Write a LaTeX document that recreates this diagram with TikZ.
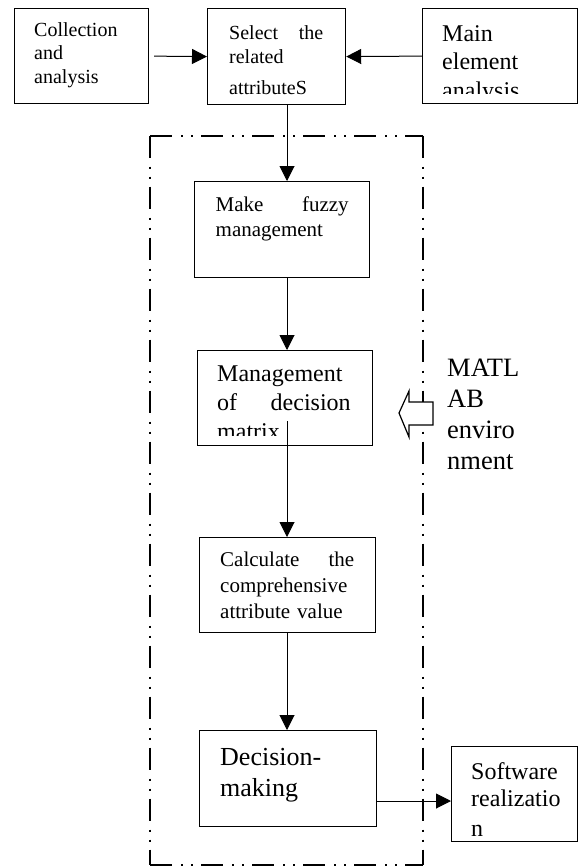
\documentclass[tikz,border=0pt]{standalone}
\usepackage{fontspec}
\setmainfont{Liberation Serif}
\usetikzlibrary{arrows.meta}
\newcommand{\fs}[2]{\fontsize{#1}{#2}\selectfont}
\tikzset{
  blk/.style={draw,line width=1.2pt,inner sep=0pt,anchor=north west},
  txt/.style={inner sep=0pt,anchor=base west,align=left},
  arr/.style={line width=1pt,-{Triangle[length=15pt,width=15pt]}},
  rng/.style={line width=2pt,dash pattern=on 22pt off 9pt on 2pt off 8pt on 2pt off 8pt},
}

\begin{document}
\begin{tikzpicture}[x=1pt,y=-1pt]
\useasboundingbox (0,0) rectangle (579,867);

%MATLAB範囲
\draw[rng](150,135.7)--(422.5,135.7); %上
\draw[rng](150,135.7)--(150,865); %左
\draw[rng](422.5,135.7)--(422.5,865); %右
\draw[rng](150,865)--(422.5,865); %下

%枠
\node[blk,minimum width=134pt,minimum height=95pt] (coll) at (14,8) {}; %上左
\node[blk,minimum width=138pt,minimum height=96pt] (sel) at (207,8) {}; %上中
\node[blk,minimum width=155pt,minimum height=95pt] (main) at (422,8) {}; %上右
\node[blk,minimum width=175pt,minimum height=95.5pt] (fuzzy) at (194,181) {};
\node[blk,minimum width=175pt,minimum height=95pt] (manag) at (197,350) {};
\node[blk,minimum width=176pt,minimum height=95pt] (calc) at (199,537) {};
\node[blk,minimum width=177pt,minimum height=96pt] (dec) at (199,730) {};
\node[blk,minimum width=126pt,minimum height=95pt] (soft) at (451,746) {}; %右下

%文字
\node[txt,text width=100pt,font=\fs{20}{23.3}] (colltxt) at (34,36.7) {Collection\\and\\analysis};
\node[txt,text width=94pt,font=\fs{20}{24}] (seltxt) at (229,39.3) {Select\hfill the\\related\\[7pt]attributeS};
\begin{scope}
\clip (main.north west) rectangle ([yshift=11pt]main.south east);
\node[txt,text width=120pt,font=\fs{24}{28.2}] (maintxt) at (442,41.7) {Main\\element\\analysis};
\end{scope}
\node[txt,text width=133pt,font=\fs{21}{25}] (fuzzytxt) at (215.5,211.7) {Make\hfill fuzzy\\management};
\begin{scope}
\clip (manag.north west) rectangle ([yshift=11pt]manag.south east);
\node[txt,text width=133.5pt,font=\fs{24}{28.8}] (managtxt) at (217,381.7) {Management\\of\hfill decision\\matrix};
\end{scope}
\node[txt,text width=134pt,font=\fs{21}{26}] (calctxt) at (220,566.7) {Calculate\hfill the\\comprehensive\\attribute value};
\node[txt,text width=140pt,font=\fs{26}{31}] (dectxt) at (220,765) {Decision-\\making};
\begin{scope}
\clip (soft.north west) rectangle ([yshift=7pt]soft.south east);
\node[txt,text width=100pt,font=\fs{24}{27.5}] (softtxt) at (471,779.3) {Software\\realizatio\\[2.5pt]n};
\end{scope}
\node[txt,text width=120pt,font=\fs{26.5}{31}] (matlab) at (447,376.7) {MATL\\AB\\enviro\\nment};

%矢印
\coordinate (ax) at (287,0);
\coordinate (lv) at (0,801);
\coordinate (mstart) at (287,421);
\draw[arr,shorten <=5pt] (coll.east) -- (sel.west);
\draw[arr] (main.west) -- (sel.east);
\draw[arr] (sel.south -| ax) -- (fuzzy.north -| ax);
\draw[arr] (fuzzy.south -| ax) -- (manag.north -| ax);
\draw[arr] (mstart) -- (calc.north -| ax);
\draw[arr] (calc.south -| ax) -- (dec.north -| ax);
\draw[arr] (dec.east |- lv) -- (soft.west |- lv);

%白抜き矢印
\draw[line width=1.2pt,fill=white](433,402)--(409,402)--(409,391)--(399,413)--(409,437)--(409,425)--(433,425)--cycle;
\end{tikzpicture}
\end{document}
